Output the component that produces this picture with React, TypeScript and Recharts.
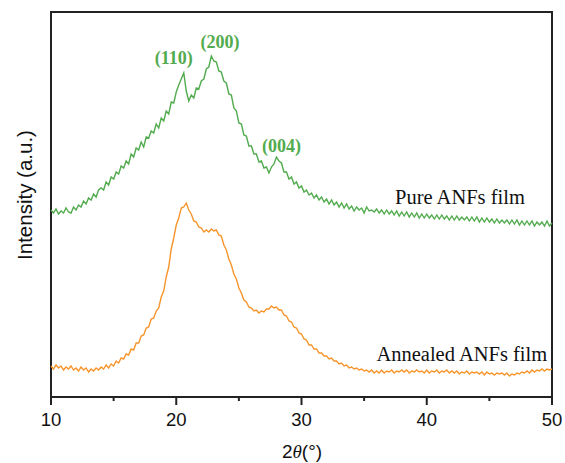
import React from "react";
import {
  LineChart,
  Line,
  XAxis,
  YAxis,
  ReferenceArea,
  ReferenceDot,
} from "recharts";

// 2θ grid: 10° .. 50°, every 0.2°
const TWO_THETA_START = 10;
const TWO_THETA_STEP = 0.2;

// intensities (arbitrary units)
const PURE_ANFS = [
  187, 184, 188, 183, 186, 184, 189, 185, 184, 190,
  187, 192, 190, 196, 193, 199, 197, 203, 200, 207,
  209, 207, 215, 212, 220, 218, 225, 223, 231, 229,
  236, 233, 243, 240, 249, 247, 255, 250, 260, 259,
  266, 264, 273, 269, 279, 276, 286, 283, 295, 294,
  305, 312, 318, 324, 306, 296, 302, 299, 309, 308,
  316, 318, 328, 330, 341, 336, 335, 326, 325, 316,
  314, 303, 302, 289, 286, 274, 273, 262, 261, 251,
  251, 243, 243, 235, 236, 229, 230, 224, 230, 233,
  240, 236, 234, 225, 225, 218, 220, 213, 215, 209,
  211, 205, 207, 202, 204, 199, 202, 197, 200, 195,
  198, 193, 197, 192, 195, 190, 194, 189, 193, 188,
  191, 186, 190, 187, 189, 184, 190, 186, 187, 185,
  188, 184, 187, 183, 187, 183, 186, 182, 186, 181,
  185, 181, 185, 180, 184, 180, 184, 179, 183, 179,
  183, 179, 182, 178, 182, 178, 182, 178, 181, 177,
  181, 177, 181, 177, 180, 177, 180, 176, 180, 176,
  180, 175, 179, 175, 179, 175, 178, 174, 178, 174,
  177, 174, 177, 173, 177, 173, 177, 172, 176, 172,
  176, 172, 176, 171, 175, 172, 175, 171, 176, 171,
  174,
];

const ANNEALED_ANFS = [
  31, 28, 32, 29, 31, 27, 30, 28, 31, 27,
  29, 26, 30, 27, 29, 25, 28, 26, 29, 27,
  30, 28, 32, 29, 33, 31, 36, 34, 39, 38,
  43, 42, 48, 47, 54, 54, 61, 62, 69, 70,
  78, 79, 86, 89, 100, 106, 120, 130, 148, 159,
  172, 179, 189, 190, 194, 187, 183, 176, 175, 170,
  169, 165, 167, 165, 168, 166, 167, 162, 161, 152,
  147, 138, 132, 123, 118, 109, 104, 97, 95, 90,
  89, 86, 87, 84, 86, 85, 88, 88, 91, 89,
  90, 87, 87, 82, 81, 76, 75, 70, 69, 64,
  63, 58, 57, 52, 52, 48, 48, 44, 44, 41,
  41, 38, 39, 36, 36, 33, 34, 31, 32, 29,
  30, 28, 29, 27, 28, 26, 27, 25, 27, 24,
  26, 24, 27, 24, 26, 25, 27, 24, 26, 25,
  27, 25, 27, 24, 26, 25, 27, 25, 26, 24,
  27, 24, 26, 25, 27, 24, 26, 25, 27, 24,
  26, 24, 26, 23, 25, 24, 26, 23, 25, 24,
  25, 23, 25, 22, 25, 23, 24, 22, 24, 23,
  24, 22, 24, 21, 23, 22, 24, 23, 25, 24,
  26, 24, 27, 25, 27, 26, 28, 26, 28, 27,
  28,
];

const X_TICKS = [10, 15, 20, 25, 30, 35, 40, 45, 50];
const PEAK_NAMES = ["(110)", "(200)", "(004)"];
const SERIES_NAMES = ["Pure ANFs film", "Annealed ANFs film"];

const GREEN = "#52AB4E";
const ORANGE = "#F7952C";
const AXIS = "#222";

const data = PURE_ANFS.map((v, i) => ({
  twoTheta: Number((TWO_THETA_START + i * TWO_THETA_STEP).toFixed(1)),
  pure: v,
  annealed: ANNEALED_ANFS[i],
}));

// where the annotations sit, in data coordinates
const PEAK_POS = [
  { x: 19.8, y: 339 },
  { x: 23.5, y: 355 },
  { x: 28.4, y: 251 },
];
const NAME_POS = [
  { x: 42.65, y: 200 },
  { x: 42.8, y: 43 },
];

function XTick({ x, payload }: any) {
  const major = payload.value % 10 === 0;
  return (
    <g>
      <line x1={x} x2={x} y1={397} y2={major ? 405 : 401} stroke={AXIS} strokeWidth={2} />
      {major && (
        <text
          x={x}
          y={419}
          textAnchor="middle"
          dominantBaseline="central"
          fontSize={18.5}
          fontFamily="'Liberation Sans', Arial, sans-serif"
          fill="#111"
        >
          {payload.value}
        </text>
      )}
    </g>
  );
}

function YTitle() {
  return (
    <text
      x={24}
      y={195}
      transform="rotate(-90 24 195)"
      textAnchor="middle"
      dominantBaseline="central"
      fontSize={20.5}
      fontFamily="'Liberation Sans', Arial, sans-serif"
      fill="#111"
    >
      Intensity (a.u.)
    </text>
  );
}

function XTitle() {
  return (
    <text
      x={302}
      y={451}
      textAnchor="middle"
      dominantBaseline="central"
      fontSize={19}
      fontFamily="'Liberation Sans', Arial, sans-serif"
      fill="#111"
    >
      2<tspan fontStyle="italic" fontFamily="'Liberation Serif', serif">θ</tspan>(°)
    </text>
  );
}

export default function App() {
  return (
    <div style={{ width: 565, height: 463, background: "#fff" }}>
      <style>{"body{margin:0}"}</style>
      <LineChart
        width={565}
        height={463}
        data={data}
        margin={{ top: 12, right: 13, left: 0, bottom: 36 }}
      >
        <XAxis
          dataKey="twoTheta"
          type="number"
          domain={[10, 50]}
          ticks={X_TICKS}
          height={30}
          axisLine={{ stroke: AXIS, strokeWidth: 2 }}
          tickLine={false}
          tick={<XTick />}
          interval={0}
          label={<XTitle />}
        />
        <YAxis
          type="number"
          domain={[0, 385]}
          width={51}
          tick={false}
          tickLine={false}
          axisLine={false}
          label={<YTitle />}
        />
        <Line
          type="linear"
          dataKey="pure"
          stroke={GREEN}
          strokeWidth={1.4}
          dot={false}
          isAnimationActive={false}
        />
        <Line
          type="linear"
          dataKey="annealed"
          stroke={ORANGE}
          strokeWidth={1.4}
          dot={false}
          isAnimationActive={false}
        />
        <ReferenceArea
          x1={10}
          x2={50}
          y1={0}
          y2={385}
          fill="none"
          stroke={AXIS}
          strokeWidth={2}
          ifOverflow="visible"
        />
        {PEAK_NAMES.map((name, i) => (
          <ReferenceDot
            key={name}
            x={PEAK_POS[i].x}
            y={PEAK_POS[i].y}
            r={0}
            stroke="none"
            label={{
              value: name,
              position: "center",
              fill: GREEN,
              fontSize: 18,
              fontWeight: "bold",
              fontFamily: "'Liberation Serif', 'Times New Roman', serif",
            }}
          />
        ))}
        {SERIES_NAMES.map((name, i) => (
          <ReferenceDot
            key={name}
            x={NAME_POS[i].x}
            y={NAME_POS[i].y}
            r={0}
            stroke="none"
            label={{
              value: name,
              position: "center",
              fill: "#111",
              fontSize: 20.5,
              fontFamily: "'Liberation Serif', 'Times New Roman', serif",
            }}
          />
        ))}
      </LineChart>
    </div>
  );
}
